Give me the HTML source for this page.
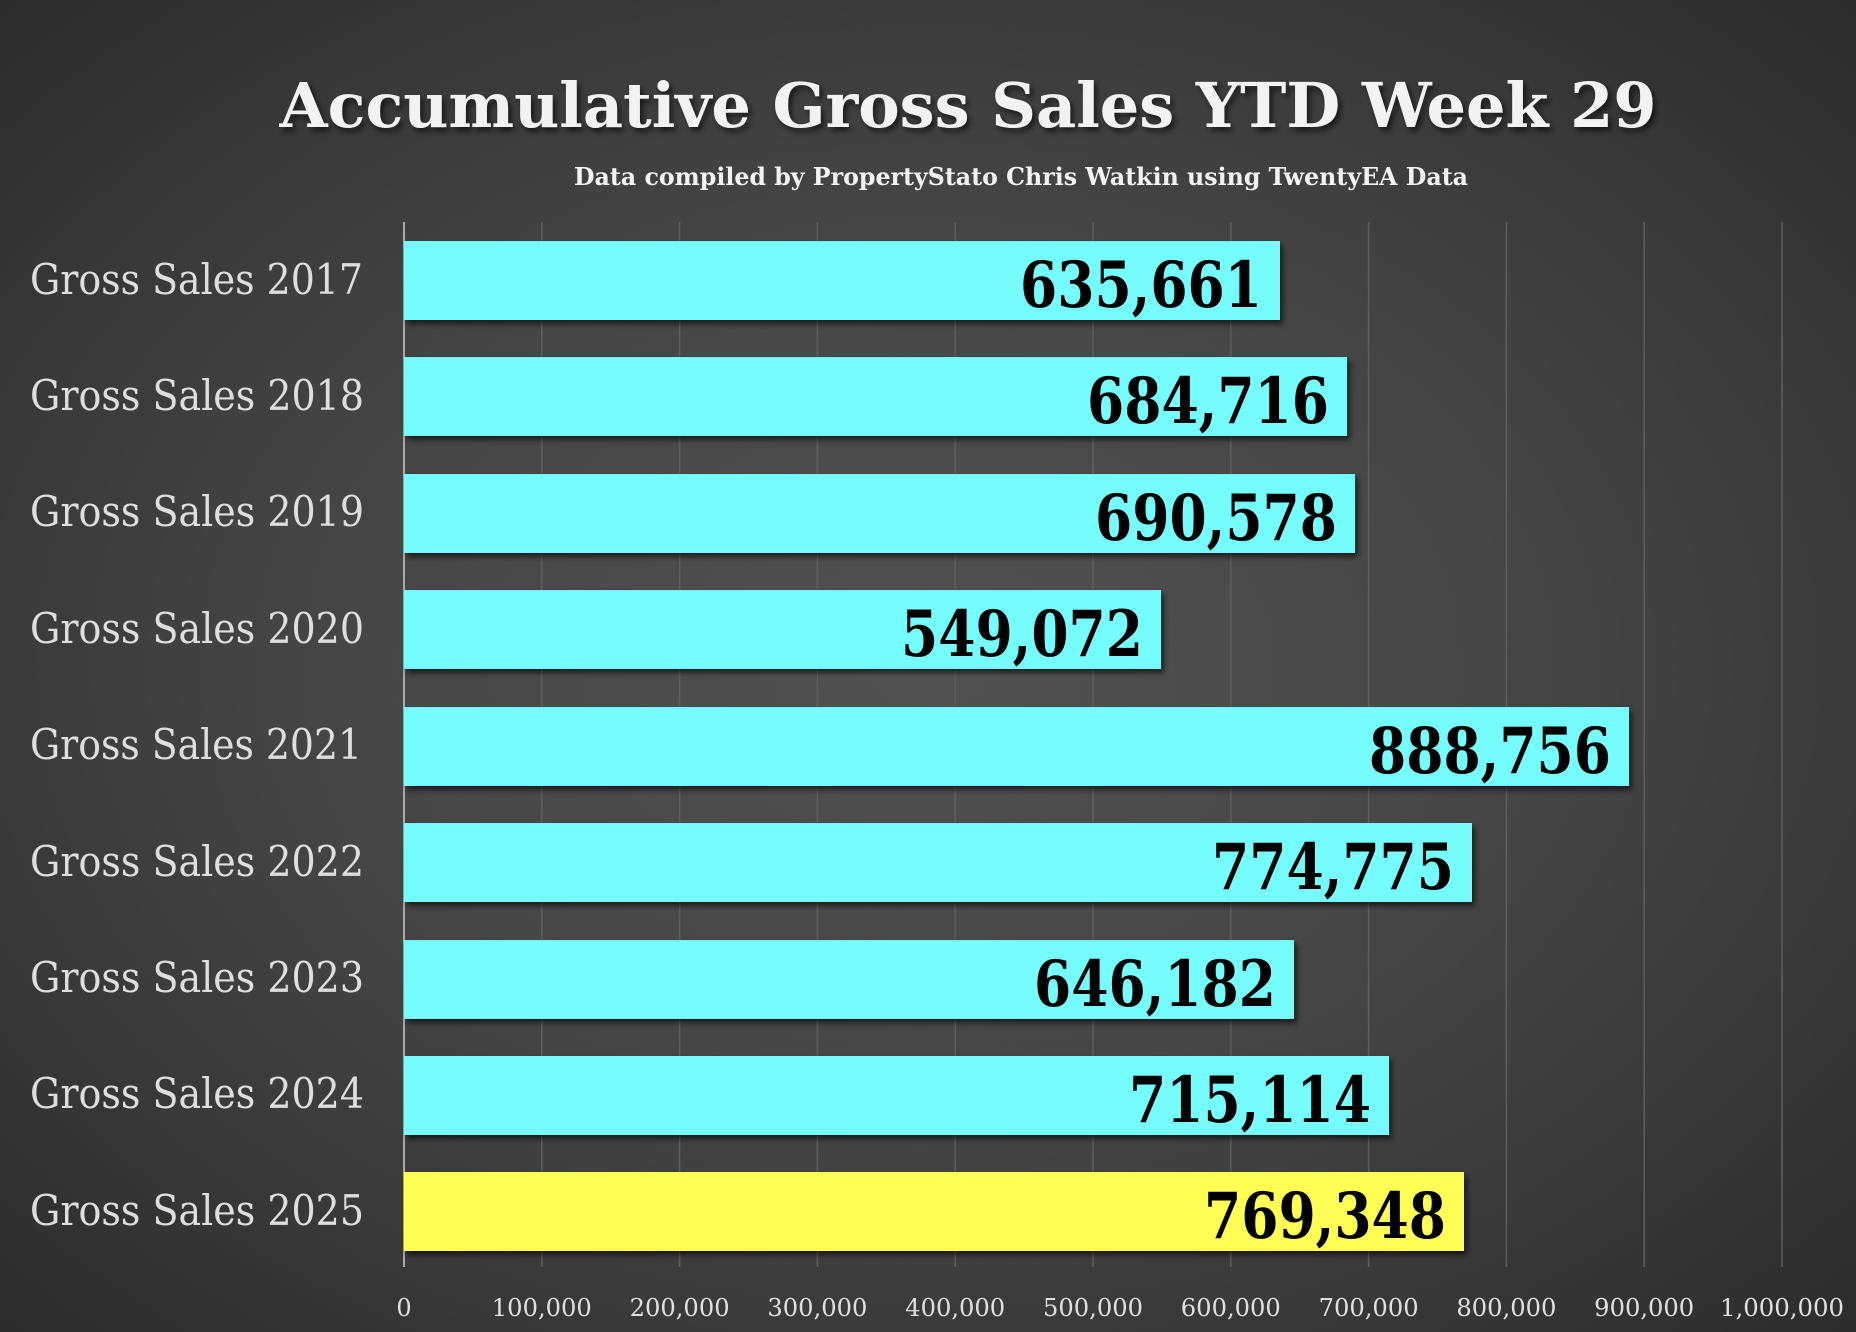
<!DOCTYPE html>
<html><head><style>
html,body{margin:0;padding:0;width:1856px;height:1332px;overflow:hidden;}
body{background:radial-gradient(ellipse at 50% 50%,#525252 0%,#444 50%,#2c2c2c 100%);}
text{font-family:"DejaVu Serif","Liberation Serif",serif;}
</style></head><body>
<svg width="1856" height="1332" xmlns="http://www.w3.org/2000/svg">
<defs><filter id="sh" x="-5%" y="-20%" width="110%" height="150%"><feDropShadow dx="3" dy="4" stdDeviation="3" flood-color="#000" flood-opacity="0.6"/></filter></defs>
<g stroke="#5e5e5e" stroke-width="1.5">
<line x1="541.8" y1="222" x2="541.8" y2="1267"/><line x1="679.6" y1="222" x2="679.6" y2="1267"/><line x1="817.4" y1="222" x2="817.4" y2="1267"/><line x1="955.2" y1="222" x2="955.2" y2="1267"/><line x1="1093" y1="222" x2="1093" y2="1267"/><line x1="1230.8" y1="222" x2="1230.8" y2="1267"/><line x1="1368.6" y1="222" x2="1368.6" y2="1267"/><line x1="1506.4" y1="222" x2="1506.4" y2="1267"/><line x1="1644.2" y1="222" x2="1644.2" y2="1267"/><line x1="1782" y1="222" x2="1782" y2="1267"/>
</g>
<line x1="404" y1="222" x2="404" y2="1267" stroke="#aaa" stroke-width="2"/>
<text x="968" y="127" text-anchor="middle" font-size="62" font-weight="bold" fill="#f2f2f2" textLength="1377" lengthAdjust="spacingAndGlyphs" filter="url(#sh)">Accumulative Gross Sales YTD Week 29</text>
<text x="1021" y="185" text-anchor="middle" font-size="24" font-weight="bold" fill="#f2f2f2" textLength="894" lengthAdjust="spacingAndGlyphs">Data compiled by PropertyStato Chris Watkin using TwentyEA Data</text>
<g font-size="42" fill="#dedede">
<text x="30" y="294" textLength="333" lengthAdjust="spacingAndGlyphs">Gross Sales 2017</text>
<text x="30" y="410" textLength="334" lengthAdjust="spacingAndGlyphs">Gross Sales 2018</text>
<text x="30" y="526" textLength="334" lengthAdjust="spacingAndGlyphs">Gross Sales 2019</text>
<text x="30" y="643" textLength="334" lengthAdjust="spacingAndGlyphs">Gross Sales 2020</text>
<text x="30" y="759" textLength="332" lengthAdjust="spacingAndGlyphs">Gross Sales 2021</text>
<text x="30" y="876" textLength="334" lengthAdjust="spacingAndGlyphs">Gross Sales 2022</text>
<text x="30" y="992" textLength="334" lengthAdjust="spacingAndGlyphs">Gross Sales 2023</text>
<text x="30" y="1108" textLength="334" lengthAdjust="spacingAndGlyphs">Gross Sales 2024</text>
<text x="30" y="1225" textLength="334" lengthAdjust="spacingAndGlyphs">Gross Sales 2025</text>
</g>
<g filter="url(#sh)">
<rect x="404" y="241" width="876" height="79" fill="#75fcfd"/>
<rect x="404" y="357" width="943" height="79" fill="#75fcfd"/>
<rect x="404" y="474" width="951" height="79" fill="#75fcfd"/>
<rect x="404" y="590" width="757" height="79" fill="#75fcfd"/>
<rect x="404" y="707" width="1225" height="79" fill="#75fcfd"/>
<rect x="404" y="823" width="1068" height="79" fill="#75fcfd"/>
<rect x="404" y="940" width="890" height="79" fill="#75fcfd"/>
<rect x="404" y="1056" width="985" height="79" fill="#75fcfd"/>
<rect x="404" y="1172" width="1060" height="79" fill="#fefe55"/>
</g>
<g font-size="64" font-weight="bold" fill="#000" text-anchor="end">
<text x="1262" y="307" textLength="242" lengthAdjust="spacingAndGlyphs">635,661</text>
<text x="1329" y="423" textLength="242" lengthAdjust="spacingAndGlyphs">684,716</text>
<text x="1337" y="540" textLength="242" lengthAdjust="spacingAndGlyphs">690,578</text>
<text x="1143" y="656" textLength="242" lengthAdjust="spacingAndGlyphs">549,072</text>
<text x="1611" y="773" textLength="242" lengthAdjust="spacingAndGlyphs">888,756</text>
<text x="1454" y="889" textLength="242" lengthAdjust="spacingAndGlyphs">774,775</text>
<text x="1276" y="1006" textLength="242" lengthAdjust="spacingAndGlyphs">646,182</text>
<text x="1371" y="1122" textLength="242" lengthAdjust="spacingAndGlyphs">715,114</text>
<text x="1446" y="1238" textLength="242" lengthAdjust="spacingAndGlyphs">769,348</text>
</g>
<g font-size="24" fill="#e0e0e0" text-anchor="middle">
<text x="404" y="1316">0</text>
<text x="541.8" y="1316" textLength="100" lengthAdjust="spacingAndGlyphs">100,000</text>
<text x="679.6" y="1316" textLength="100" lengthAdjust="spacingAndGlyphs">200,000</text>
<text x="817.4" y="1316" textLength="100" lengthAdjust="spacingAndGlyphs">300,000</text>
<text x="955.2" y="1316" textLength="100" lengthAdjust="spacingAndGlyphs">400,000</text>
<text x="1093" y="1316" textLength="100" lengthAdjust="spacingAndGlyphs">500,000</text>
<text x="1230.8" y="1316" textLength="100" lengthAdjust="spacingAndGlyphs">600,000</text>
<text x="1368.6" y="1316" textLength="100" lengthAdjust="spacingAndGlyphs">700,000</text>
<text x="1506.4" y="1316" textLength="100" lengthAdjust="spacingAndGlyphs">800,000</text>
<text x="1644.2" y="1316" textLength="100" lengthAdjust="spacingAndGlyphs">900,000</text>
<text x="1782" y="1316" textLength="124" lengthAdjust="spacingAndGlyphs">1,000,000</text>
</g>
</svg>
</body></html>
